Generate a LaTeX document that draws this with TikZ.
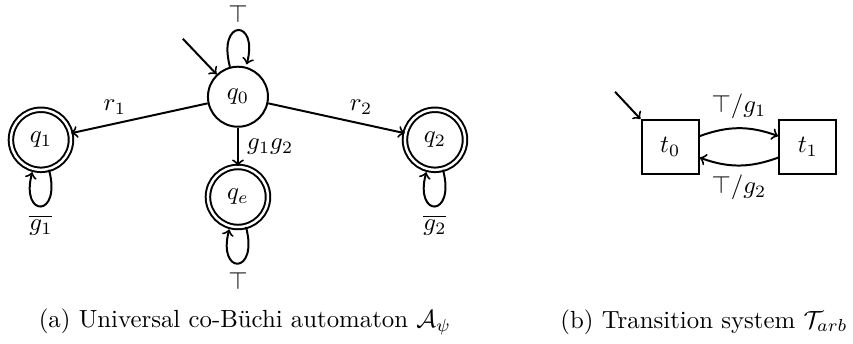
\documentclass[tikz,border=0pt]{standalone}
\usepackage{fontspec}
\usepackage{amssymb}
\tikzset{   loc/.style = {circle, draw, thick, minimum size=0.85cm, inner sep=0pt},
            acc/.style = {loc, double, double distance=1pt},
            sys/.style = {rectangle, draw, thick, minimum width=0.81cm, minimum height=0.76cm}}

\begin{document}
\begin{tikzpicture}[->, thick]
                        \useasboundingbox (0,0) rectangle (12.08,-4.86);
                        % automaton
                        \node[loc] (q0) at (3.37,-1.37) {$q_0$};
                        \node[acc] (q1) at (0.58,-1.98) {$q_1$};
                        \node[acc] (q2) at (6.16,-1.98) {$q_2$};
                        \node[acc] (qe) at (3.37,-2.79) {$q_e$};
                        \coordinate (q0in) at (2.59,-0.55);
                        \draw (q0in) -- (q0);
                        \draw (q0) edge[loop above] node[above, inner sep=0pt, yshift=3pt] {$\top$} (q0)
                                   edge node[above, pos=0.68] {$r_1$} (q1)
                                   edge node[above, pos=0.68] {$r_2$} (q2)
                                   edge node[right] {$g_1 g_2$} (qe);
                        \draw (q1) edge[loop below] node[below] {$\overline{g_1}$} (q1);
                        \draw (q2) edge[loop below] node[below] {$\overline{g_2}$} (q2);
                        \draw (qe) edge[loop below] node[below] {$\top$} (qe);
                        % transition system
                        \node[sys] (t0) at (9.49,-2.08) {$t_0$};
                        \node[sys] (t1) at (11.44,-2.08) {$t_1$};
                        \coordinate (t0in) at (8.71,-1.30);
                        \draw (t0in) -- (t0.north west);
                        \draw (t0) edge[bend left=20] node[above] {$\top/g_1$} (t1);
                        \draw (t1) edge[bend left=20] node[below] {$\top/g_2$} (t0);
                        % captions
                        \node (capa) at (3.47,-4.56) {(a) Universal co-Büchi automaton $\mathcal{A}_\psi$};
                        \node (capb) at (9.97,-4.56) {(b) Transition system $\mathcal{T}_{arb}$};
\end{tikzpicture}
\end{document}
